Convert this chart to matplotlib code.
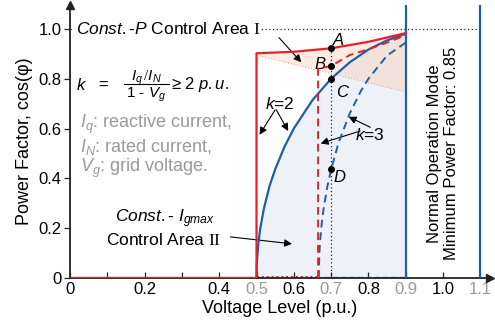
import matplotlib
matplotlib.use("Agg")
import matplotlib.pyplot as plt

RED = "#E8202A"
BLUE = "#1F5FA8"
GRAY = "#9A9A9A"
TEXT = "#222222"

plt.rcParams.update(
    {
        "font.family": ["Liberation Sans", "DejaVu Sans"],
        "mathtext.fontset": "custom",
        "mathtext.it": "Liberation Sans:italic",
        "mathtext.rm": "Liberation Serif",
        "mathtext.sf": "Liberation Sans",
    }
)

# k = 2 reactive current limit curve
v_k2 = [0.5, 0.501, 0.505, 0.51, 0.52, 0.535, 0.55, 0.575, 0.6, 0.65, 0.7, 0.75, 0.8, 0.85, 0.9]
pf_k2 = [0.0, 0.063, 0.14, 0.199, 0.28, 0.37, 0.436, 0.527, 0.6, 0.714, 0.8, 0.866, 0.917, 0.954, 0.98]

# k = 3 reactive current limit curve
v_k3 = [0.667, 0.668, 0.67, 0.675, 0.68, 0.69, 0.7, 0.72, 0.75, 0.78, 0.8, 0.85, 0.9]
pf_k3 = [0.0, 0.08, 0.141, 0.222, 0.28, 0.368, 0.436, 0.543, 0.661, 0.751, 0.8, 0.893, 0.945]

# constant-P boundary (k = 2), solid red
v_p2 = [0.0, 0.5, 0.5, 0.6, 0.7, 0.8, 0.9]
pf_p2 = [0.0, 0.0, 0.902, 0.908, 0.922, 0.948, 0.983]

# constant-P boundary (k = 3), dashed red
v_p3 = [0.665, 0.665, 0.7, 0.75, 0.8, 0.85, 0.9]
pf_p3 = [0.0, 0.84, 0.851, 0.895, 0.918, 0.945, 0.975]

# lower edge of area I
v_edge = [0.5, 0.6, 0.7, 0.8, 0.9]
pf_edge = [0.895, 0.86, 0.826, 0.787, 0.747]

# operating points at Vg = 0.7
pt_names = ["A", "B", "C", "D"]
pt_v = [0.7, 0.7, 0.7, 0.7]
pt_pf = [0.922, 0.851, 0.8, 0.436]

xticks = [0, 0.2, 0.4, 0.5, 0.6, 0.7, 0.8, 0.9, 1.0, 1.1]
xtick_labels = ["0", "0.2", "0.4", "0.5", "0.6", "0.7", "0.8", "0.9", "1.0", "1.1"]
xtick_gray = ["0.5", "0.7", "0.9", "1.1"]
yticks = [0, 0.2, 0.4, 0.6, 0.8, 1.0]
ytick_labels = ["0", "0.2", "0.4", "0.6", "0.8", "1.0"]

fig = plt.figure(figsize=(4.95, 3.3), dpi=100)
ax = fig.add_axes([0.1414, 0.1576, 0.8486, 0.8274])
ax.set_xlim(0, 1.126)
ax.set_ylim(0, 1.096)

# shaded areas
ax.fill_between(v_k2, 0, pf_k2, color="#EEF1F8", zorder=0, lw=0)
ax.fill_between(v_edge, pf_edge, pf_p2[2:], color="#F9CDB4", alpha=0.4, zorder=0, lw=0)
ax.plot([v_edge[0], v_edge[-1]], [pf_edge[0], pf_edge[-1]], color="#F4A58A", lw=0.8,
        ls=":", zorder=1)

# reference lines
ax.plot([0, 1.1], [1.0, 1.0], color=TEXT, lw=0.9, ls=(0, (1, 2)), zorder=1)
ax.plot([0.7, 0.7], [0, pt_pf[0]], color=TEXT, lw=0.9, ls=(0, (1, 2)), zorder=1)
ax.plot([0.5, 0.9], [0.003, 0.003], color="#6C93C9", lw=1.0, ls=(0, (4, 2)), zorder=2)
ax.plot([0.5, 0.665], [0.004, 0.004], color=RED, lw=1.4, ls=(0, (1, 1.5)), zorder=2)
for xv in [0.9, 1.1]:
    ax.plot([xv, xv], [0, 1.096], color=BLUE, lw=1.6, zorder=3)

# curves
ax.plot(v_k2, pf_k2, color=BLUE, lw=1.6, zorder=4)
ax.plot(v_k3, pf_k3, color=BLUE, lw=1.4, ls=(0, (4, 2.5)), zorder=4)
ax.plot(v_p2, pf_p2, color=RED, lw=1.6, zorder=5)
ax.plot(v_p3, pf_p3, color=RED, lw=1.4, ls=(0, (4, 2.5)), zorder=5)

ax.scatter(pt_v, pt_pf, s=16, color="black", zorder=6)
ax.text(0.705, 0.955, "A", fontsize=12, style="italic", ha="left", va="center")
ax.text(0.685, 0.855, "B", fontsize=12, style="italic", ha="right", va="center")
ax.text(0.712, 0.745, "C", fontsize=12, style="italic", ha="left", va="center")
ax.text(0.705, 0.405, "D", fontsize=12, style="italic", ha="left", va="center")

# annotations
arrow = dict(arrowstyle="-|>", color="black", lw=0.8, mutation_scale=11, shrinkA=0, shrinkB=0)
ax.text(0.015, 1.0, "$Const.$-$P$ Control Area $\\mathrm{I}$", fontsize=12.5, va="center",
        ha="left", bbox=dict(facecolor="white", edgecolor="none", pad=1.0), zorder=3)
ax.annotate("", xy=(0.62, 0.866), xytext=(0.56, 0.965), arrowprops=arrow)

ax.text(0.563, 0.70, "$k$=2", fontsize=12.5, ha="center", va="center")
ax.annotate("", xy=(0.508, 0.575), xytext=(0.55, 0.675), arrowprops=arrow)
ax.annotate("", xy=(0.585, 0.59), xytext=(0.553, 0.675), arrowprops=arrow)

ax.text(0.805, 0.575, "$k$=3", fontsize=12.5, ha="center", va="center")
ax.annotate("", xy=(0.747, 0.647), xytext=(0.805, 0.605), arrowprops=arrow)
ax.annotate("", xy=(0.672, 0.54), xytext=(0.778, 0.59), arrowprops=arrow)

ax.text(0.255, 0.24, "$Const.$- $I_{gmax}$", fontsize=12.5, ha="center", va="center")
ax.text(0.25, 0.152, "Control Area $\\mathrm{II}$", fontsize=12.5, ha="center", va="center")
ax.annotate("", xy=(0.595, 0.137), xytext=(0.43, 0.165), arrowprops=arrow)

ax.text(0.03, 0.775, "$k$", fontsize=12, ha="center", va="center")
ax.text(0.09, 0.775, "=", fontsize=12, ha="center", va="center")
ax.text(0.205, 0.805, "$I_q\\,/I_N$", fontsize=11, ha="center", va="center")
ax.plot([0.145, 0.265], [0.777, 0.777], color="black", lw=0.8)
ax.text(0.205, 0.735, "1 - $V_g$", fontsize=11, ha="center", va="center")
ax.text(0.27, 0.775, "\u2265 2 $p.u.$", fontsize=12, ha="left", va="center")

ax.text(0.026, 0.615, "$I_q$: reactive current,", fontsize=13, color=GRAY, va="center")
ax.text(0.026, 0.527, "$I_N$: rated current,", fontsize=13, color=GRAY, va="center")
ax.text(0.026, 0.439, "$V_g$: grid voltage.", fontsize=13, color=GRAY, va="center")

ax.text(1.0, 0.5, "Normal Operation Mode\nMinimum Power Factor: 0.85", fontsize=12,
        rotation=90, ha="center", va="center", linespacing=1.1)

# axes styling
for side in ["top", "right"]:
    ax.spines[side].set_visible(False)
for side in ["left", "bottom"]:
    ax.spines[side].set_color(TEXT)
    ax.spines[side].set_linewidth(1.3)
ax.plot(1.126, 0, ">", color=TEXT, ms=6, clip_on=False, zorder=7)
ax.plot(0, 1.096, "^", color=TEXT, ms=6, clip_on=False, zorder=7)

ax.set_xticks(xticks)
ax.set_xticklabels(xtick_labels, fontsize=12)
for lab in ax.get_xticklabels():
    if lab.get_text() in xtick_gray:
        lab.set_color(GRAY)
ax.set_xticks([0.1, 0.3], minor=True)
ax.tick_params(axis="x", which="both", direction="in", length=4, width=0.9, pad=3, color=TEXT)
ax.set_yticks(yticks)
ax.set_yticklabels(ytick_labels, fontsize=12)
ax.tick_params(axis="y", direction="out", length=4, width=0.9, pad=2, color=TEXT)

ax.set_xlabel("Voltage Level (p.u.)", fontsize=13, labelpad=2)
ax.set_ylabel("Power Factor, cos(\u03c6)", fontsize=13, labelpad=4)

fig.savefig("out.png", dpi=100)
